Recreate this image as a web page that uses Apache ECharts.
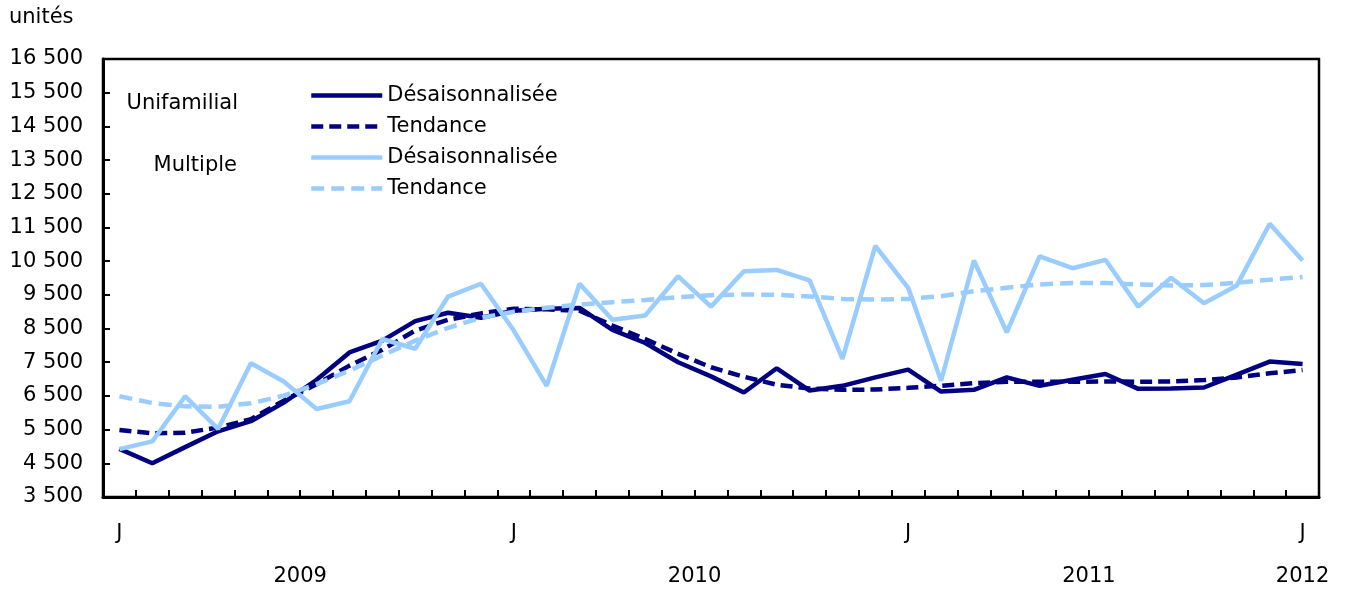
<!DOCTYPE html>
<html>
<head>
<meta charset="utf-8">
<script src="https://cdn.jsdelivr.net/npm/echarts@6/dist/echarts.min.js"></script>
<style>
  html, body { margin: 0; padding: 0; background: #fff; }
  #chart { width: 1345px; height: 589px; }
</style>
</head>
<body>
<div id="chart"></div>
<script>
// monthly, Jan 2009 .. Jan 2012
const months = [
  "2009-01","2009-02","2009-03","2009-04","2009-05","2009-06","2009-07","2009-08","2009-09","2009-10","2009-11","2009-12",
  "2010-01","2010-02","2010-03","2010-04","2010-05","2010-06","2010-07","2010-08","2010-09","2010-10","2010-11","2010-12",
  "2011-01","2011-02","2011-03","2011-04","2011-05","2011-06","2011-07","2011-08","2011-09","2011-10","2011-11","2011-12",
  "2012-01"
];

const uniDes = [4930, 4500, 4980, 5450, 5750, 6300, 6980, 7790, 8140, 8720, 8970, 8820, 9030, 9090, 9110, 8460, 8070, 7500, 7080, 6600, 7320, 6660, 6800, 7050, 7280, 6630, 6680, 7050, 6800, 6980, 7150, 6710, 6720, 6750, 7130, 7520, 7450];
const uniTen = [5490, 5390, 5410, 5560, 5810, 6360, 6850, 7400, 7870, 8440, 8760, 8950, 9090, 9070, 9030, 8590, 8190, 7750, 7350, 7070, 6830, 6720, 6680, 6690, 6740, 6800, 6880, 6920, 6920, 6920, 6930, 6920, 6930, 6970, 7050, 7170, 7270];
const multDes = [4920, 5150, 6490, 5520, 7470, 6930, 6110, 6340, 8190, 7900, 9450, 9830, 8440, 6800, 9830, 8760, 8890, 10050, 9150, 10200, 10240, 9930, 7600, 10950, 9710, 6950, 10520, 8390, 10640, 10290, 10540, 9150, 10010, 9250, 9780, 11610, 10520];
const multTen = [6490, 6290, 6190, 6180, 6280, 6510, 6850, 7250, 7700, 8140, 8520, 8820, 9000, 9120, 9210, 9280, 9350, 9430, 9490, 9510, 9500, 9450, 9380, 9360, 9380, 9460, 9610, 9710, 9810, 9850, 9850, 9810, 9780, 9790, 9860, 9950, 10030];

const yTicks = [3500, 4500, 5500, 6500, 7500, 8500, 9500, 10500, 11500, 12500, 13500, 14500, 15500, 16500];
const years = ["2009", "2010", "2011", "2012"];
const yearPos = [5.5, 17.5, 29.5, 36]; // in month-index units

const FONT = "DejaVu Sans";
const FS = 21;
const NAVY = "#000080";
const SKY = "#99ccff";

const chart = echarts.init(document.getElementById("chart"));

const fmtThousands = v => String(v).replace(/\B(?=(\d{3})+(?!\d))/g, " ");

const names = [
  "Unifamilial|Désaisonnalisée",
  "Unifamilial|Tendance",
  "Multiple|Désaisonnalisée",
  "Multiple|Tendance"
];

function lineSeries(name, data, color, type) {
  return {
    name: name,
    type: "line",
    data: data,
    symbol: "none",
    showSymbol: false,
    smooth: false,
    itemStyle: { color: color },
    lineStyle: { color: color, width: 4.5, type: type }
  };
}

chart.setOption({
  animation: false,
  textStyle: { fontFamily: FONT, color: "#000" },
  grid: {
    left: 103, right: 26, top: 59, bottom: 92,
    show: true, borderColor: "#000", borderWidth: 2.5, backgroundColor: "transparent"
  },
  legend: {
    orient: "vertical",
    left: 304, top: 80,
    itemWidth: 71, itemHeight: 14, itemGap: 10,
    selectedMode: false,
    itemStyle: { opacity: 0 },
    lineStyle: { width: 4.5 },
    textStyle: { fontSize: FS, fontFamily: FONT, color: "#000" },
    formatter: n => n.split("|")[1],
    data: names
  },
  graphic: [
    { type: "text", x: 9, y: 18, style: { text: "unités", font: FS + "px " + FONT, fill: "#000", textVerticalAlign: "middle" } },
    { type: "text", x: 238, y: 104, style: { text: "Unifamilial", font: FS + "px " + FONT, fill: "#000", textAlign: "right", textVerticalAlign: "middle" } },
    { type: "text", x: 237, y: 166, style: { text: "Multiple", font: FS + "px " + FONT, fill: "#000", textAlign: "right", textVerticalAlign: "middle" } }
  ],
  xAxis: [
    {
      type: "category",
      data: months,
      boundaryGap: true,
      axisLine: { show: true, lineStyle: { color: "#000", width: 3 } },
      axisTick: { show: true, inside: true, length: 7, interval: 0, lineStyle: { color: "#000", width: 2 } },
      axisLabel: {
        interval: i => i % 12 === 0,
        formatter: v => v.endsWith("-01") ? "J" : "",
        margin: 26, fontSize: FS, fontFamily: FONT, color: "#000"
      },
      splitLine: { show: false }
    },
    {
      type: "value",
      min: -0.5, max: 36.5,
      position: "bottom",
      offset: 61,
      axisLine: { show: false },
      axisTick: { show: false },
      splitLine: { show: false },
      axisLabel: {
        customValues: yearPos,
        formatter: v => years[yearPos.indexOf(v)] || "",
        margin: 8, fontSize: FS, fontFamily: FONT, color: "#000"
      }
    }
  ],
  yAxis: {
    type: "value",
    min: 3500, max: 16500,
    axisLine: { show: true, onZero: false, lineStyle: { color: "#000", width: 3 } },
    axisTick: { show: true, inside: true, length: 7, customValues: yTicks, lineStyle: { color: "#000", width: 2 } },
    axisLabel: {
      customValues: yTicks,
      formatter: fmtThousands,
      margin: 20, fontSize: FS, fontFamily: FONT, color: "#000"
    },
    splitLine: { show: false }
  },
  series: [
    lineSeries(names[0], uniDes, NAVY, "solid"),
    lineSeries(names[1], uniTen, NAVY, [12, 6]),
    lineSeries(names[2], multDes, SKY, "solid"),
    lineSeries(names[3], multTen, SKY, [13, 7])
  ]
});
</script>
</body>
</html>
